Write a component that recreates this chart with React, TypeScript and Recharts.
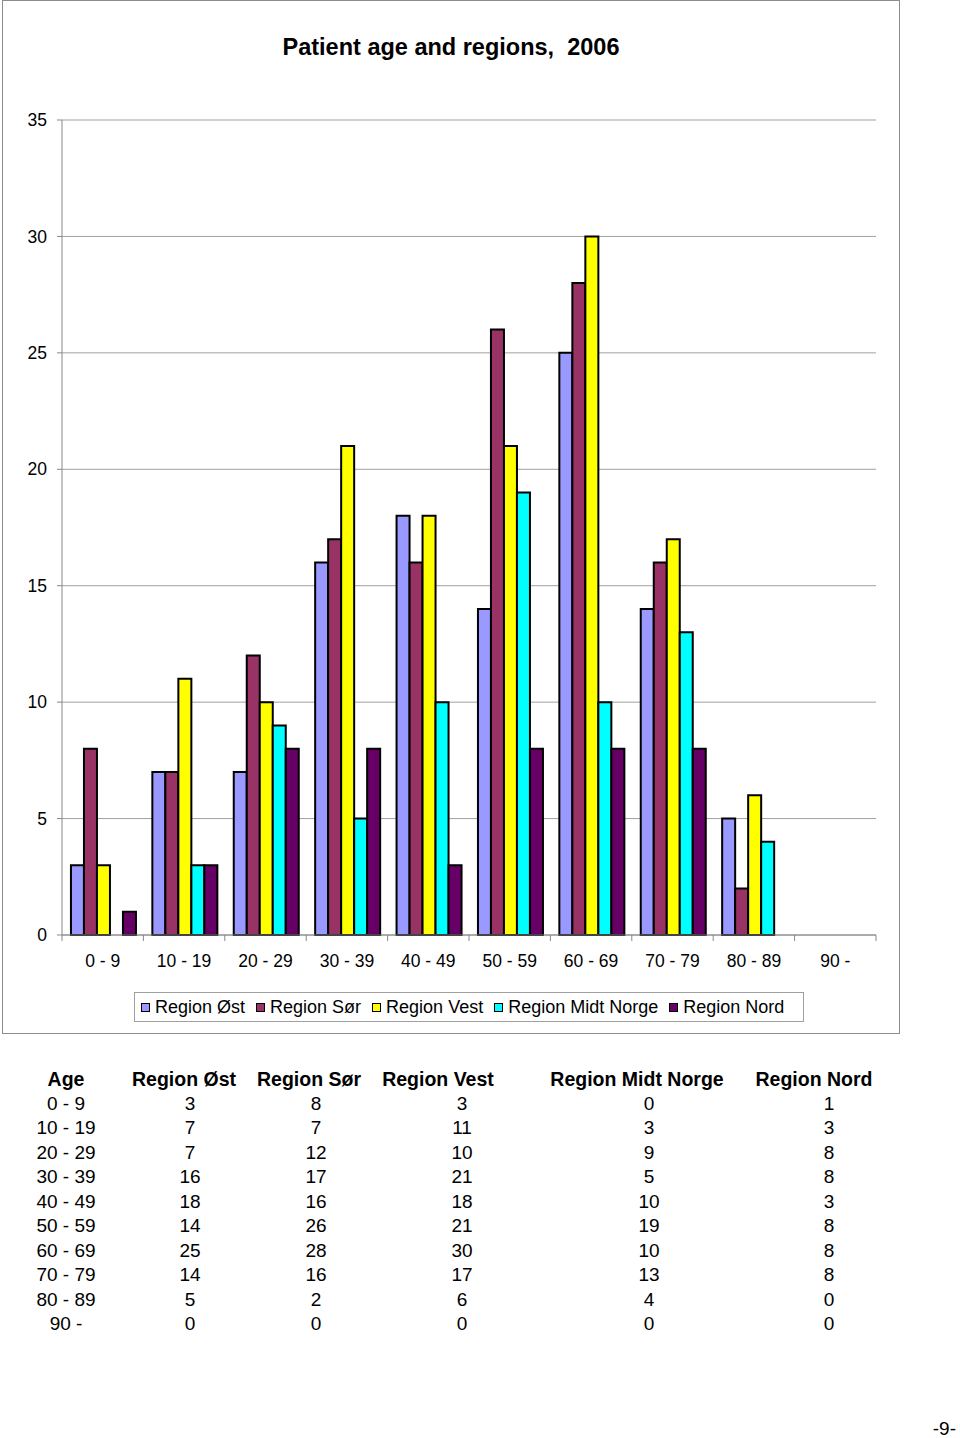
import React from 'react';
import { BarChart, Bar, XAxis, YAxis, CartesianGrid } from 'recharts';

const ageGroups = ['0 - 9', '10 - 19', '20 - 29', '30 - 39', '40 - 49', '50 - 59', '60 - 69', '70 - 79', '80 - 89', '90 -'];
const regionOst = [3, 7, 7, 16, 18, 14, 25, 14, 5, 0];
const regionSor = [8, 7, 12, 17, 16, 26, 28, 16, 2, 0];
const regionVest = [3, 11, 10, 21, 18, 21, 30, 17, 6, 0];
const regionMidt = [0, 3, 9, 5, 10, 19, 10, 13, 4, 0];
const regionNord = [1, 3, 8, 8, 3, 8, 8, 8, 0, 0];
const yTicks = [0, 5, 10, 15, 20, 25, 30, 35];

const seriesNames = ['Region Øst', 'Region Sør', 'Region Vest', 'Region Midt Norge', 'Region Nord'];
const seriesKeys = ['ost', 'sor', 'vest', 'midt', 'nord'];
const seriesColors = ['#9999FF', '#993366', '#FFFF00', '#00FFFF', '#660066'];
const seriesValues = [regionOst, regionSor, regionVest, regionMidt, regionNord];

const data = ageGroups.map((age, i) => {
  const row: Record<string, string | number> = { age };
  seriesKeys.forEach((k, s) => { row[k] = seriesValues[s][i]; });
  return row;
});

const FONT = '"Liberation Sans", Arial, sans-serif';
const CHART_W = 896;
const CHART_H = 1032;
const MARGIN = { top: 119, right: 23, left: 0, bottom: 68 };
const Y_AXIS_W = 59;
const PLOT_W = CHART_W - MARGIN.right - MARGIN.left - Y_AXIS_W;
const BAND = PLOT_W / ageGroups.length;

const XTick = (props: any) => {
  const { x, y, payload, index } = props;
  return (
    <g>
      <line x1={x - BAND / 2} x2={x - BAND / 2} y1={y} y2={y + 6} stroke="#888" />
      {index === ageGroups.length - 1 && (
        <line x1={x + BAND / 2} x2={x + BAND / 2} y1={y} y2={y + 6} stroke="#888" />
      )}
      <text x={x} y={y + 32} textAnchor="middle" fontSize={17.5} fill="#000" fontFamily={FONT}>
        {payload.value}
      </text>
    </g>
  );
};

const colCenters = [66, 190, 316, 462, 649, 829];
const headCenters = [66, 184, 309, 438, 637, 814];
const headers = ['Age', ...seriesNames];
const ROW0 = 1104;
const ROW_STEP = 24.45;

export default function App() {
  return (
    <div style={{ position: 'absolute', left: 0, top: 0, width: 960, height: 1438, background: '#fff', fontFamily: FONT, overflow: 'hidden' }}>
      <div style={{ position: 'absolute', left: 2, top: 0, width: 898, height: 1034, border: '1px solid #8c8c8c', boxSizing: 'border-box' }}>
        <div style={{ position: 'absolute', left: 0, width: 896, top: 33, textAlign: 'center', fontWeight: 'bold', fontSize: 23.5, color: '#000' }}>
          Patient age and regions,&nbsp; 2006
        </div>
        <BarChart width={CHART_W} height={CHART_H} data={data} margin={MARGIN} barCategoryGap="11%" barGap={0}>
          <CartesianGrid vertical={false} stroke="#a0a0a0" />
          <XAxis
            dataKey="age"
            height={30}
            stroke="#888"
            tickLine={false}
            tickSize={0}
            tickMargin={0}
            interval={0}
            tick={<XTick />}
          />
          <YAxis
            width={Y_AXIS_W}
            domain={[0, 35]}
            ticks={yTicks}
            stroke="#888"
            tickSize={5}
            tickMargin={10}
            tick={{ fill: '#000', fontSize: 17.5, fontFamily: FONT }}
            interval={0}
          />
          {seriesKeys.map((k, s) => (
            <Bar key={k} dataKey={k} name={seriesNames[s]} fill={seriesColors[s]} stroke="#000" strokeWidth={2} isAnimationActive={false} />
          ))}
        </BarChart>
        <div style={{ position: 'absolute', left: 131, top: 991, width: 670, height: 30, border: '1px solid #a0a0a0', boxSizing: 'border-box', display: 'flex', alignItems: 'center', paddingLeft: 6, fontSize: 18, color: '#000', whiteSpace: 'nowrap', overflow: 'visible' }}>
          {seriesNames.map((n, s) => (
            <div key={n} style={{ display: 'flex', alignItems: 'center', marginRight: s < seriesNames.length - 1 ? 11 : 0, flexShrink: 0 }}>
              <div style={{ width: 7, height: 7, background: seriesColors[s], border: '1.5px solid #000', flexShrink: 0 }} />
              <span style={{ marginLeft: 5 }}>{n}</span>
            </div>
          ))}
        </div>
      </div>
      {headers.map((h, c) => (
        <div key={h} style={{ position: 'absolute', left: headCenters[c] - 150, width: 300, top: 1079 - 12, textAlign: 'center', fontWeight: 'bold', fontSize: 19.5, lineHeight: '24px', color: '#000' }}>
          {h}
        </div>
      ))}
      {ageGroups.map((age, r) => (
        <React.Fragment key={age}>
          {[age, ...seriesValues.map((v) => String(v[r]))].map((val, c) => (
            <div key={c} style={{ position: 'absolute', left: colCenters[c] - 100, width: 200, top: ROW0 + r * ROW_STEP - 12, textAlign: 'center', fontSize: 19, lineHeight: '24px', color: '#000' }}>
              {val}
            </div>
          ))}
        </React.Fragment>
      ))}
      <div style={{ position: 'absolute', left: 880, width: 76, top: 1417, textAlign: 'right', fontSize: 19, lineHeight: '24px', color: '#000' }}>-9-</div>
    </div>
  );
}
